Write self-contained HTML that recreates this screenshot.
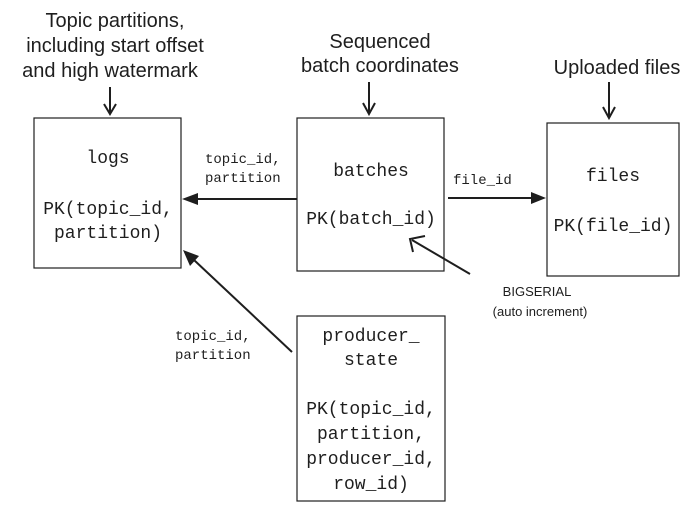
<!DOCTYPE html>
<html><head><style>
body{margin:0;background:#fff;}
svg{display:block}
.m{font-family:"Liberation Mono",monospace;font-size:18px;fill:#1e1e1e;text-anchor:middle}
.s{font-family:"Liberation Mono",monospace;font-size:14px;fill:#1e1e1e}
.h{font-family:"Liberation Sans",sans-serif;font-size:20px;fill:#1e1e1e;text-anchor:middle}
.h2{font-family:"Liberation Sans",sans-serif;font-size:13px;fill:#1e1e1e;text-anchor:middle}
</style></head><body>
<svg width="696" height="512" viewBox="0 0 696 512" xmlns="http://www.w3.org/2000/svg">
<g fill="none" stroke="#1e1e1e" stroke-width="1.2">
<rect x="34" y="118" width="147" height="150"/>
<rect x="297" y="118" width="147" height="153"/>
<rect x="547" y="123" width="132" height="153"/>
<rect x="297" y="316" width="148" height="185"/>
</g>
<g stroke="#1e1e1e" stroke-width="2" fill="none">
<line x1="297" y1="199" x2="196" y2="199"/>
<line x1="448" y1="198" x2="532" y2="198"/>
<line x1="292" y1="352" x2="194" y2="260"/>
<line x1="470" y1="274" x2="412" y2="240"/>
<polyline points="413,252 410,239 425,236"/>
<line x1="110" y1="87" x2="110" y2="113"/>
<polyline points="104,104 110,114 116,104"/>
<line x1="369" y1="82" x2="369" y2="113"/>
<polyline points="363,103 369,114 375,103"/>
<line x1="609" y1="82" x2="609" y2="117"/>
<polyline points="603,107 609,118 615,107"/>
</g>
<g fill="#1e1e1e">
<polygon points="182,199 198,193 198,205"/>
<polygon points="546,198 531,192 531,204"/>
<polygon points="183,250 199,256 190,266"/>
</g>
<text class="h" x="115" y="27">Topic partitions,</text>
<text class="h" x="115" y="52">including start offset</text>
<text class="h" x="110" y="77">and high watermark</text>
<text class="h" x="380" y="48">Sequenced</text>
<text class="h" x="380" y="72">batch coordinates</text>
<text class="h" x="617" y="74">Uploaded files</text>
<text class="m" x="108" y="163">logs</text>
<text class="m" x="108" y="214">PK(topic_id,</text>
<text class="m" x="108" y="238">partition)</text>
<text class="m" x="371" y="176">batches</text>
<text class="m" x="371" y="224">PK(batch_id)</text>
<text class="m" x="613" y="181">files</text>
<text class="m" x="613" y="231">PK(file_id)</text>
<text class="m" x="371" y="341">producer_</text>
<text class="m" x="371" y="365">state</text>
<text class="m" x="371" y="414">PK(topic_id,</text>
<text class="m" x="371" y="439">partition,</text>
<text class="m" x="371" y="464">producer_id,</text>
<text class="m" x="371" y="489">row_id)</text>
<text class="s" x="205" y="163">topic_id,</text>
<text class="s" x="205" y="182">partition</text>
<text class="s" x="453" y="184">file_id</text>
<text class="s" x="175" y="340">topic_id,</text>
<text class="s" x="175" y="359">partition</text>
<text class="h2" x="537" y="296">BIGSERIAL</text>
<text class="h2" x="540" y="316">(auto increment)</text>
</svg>
</body></html>
